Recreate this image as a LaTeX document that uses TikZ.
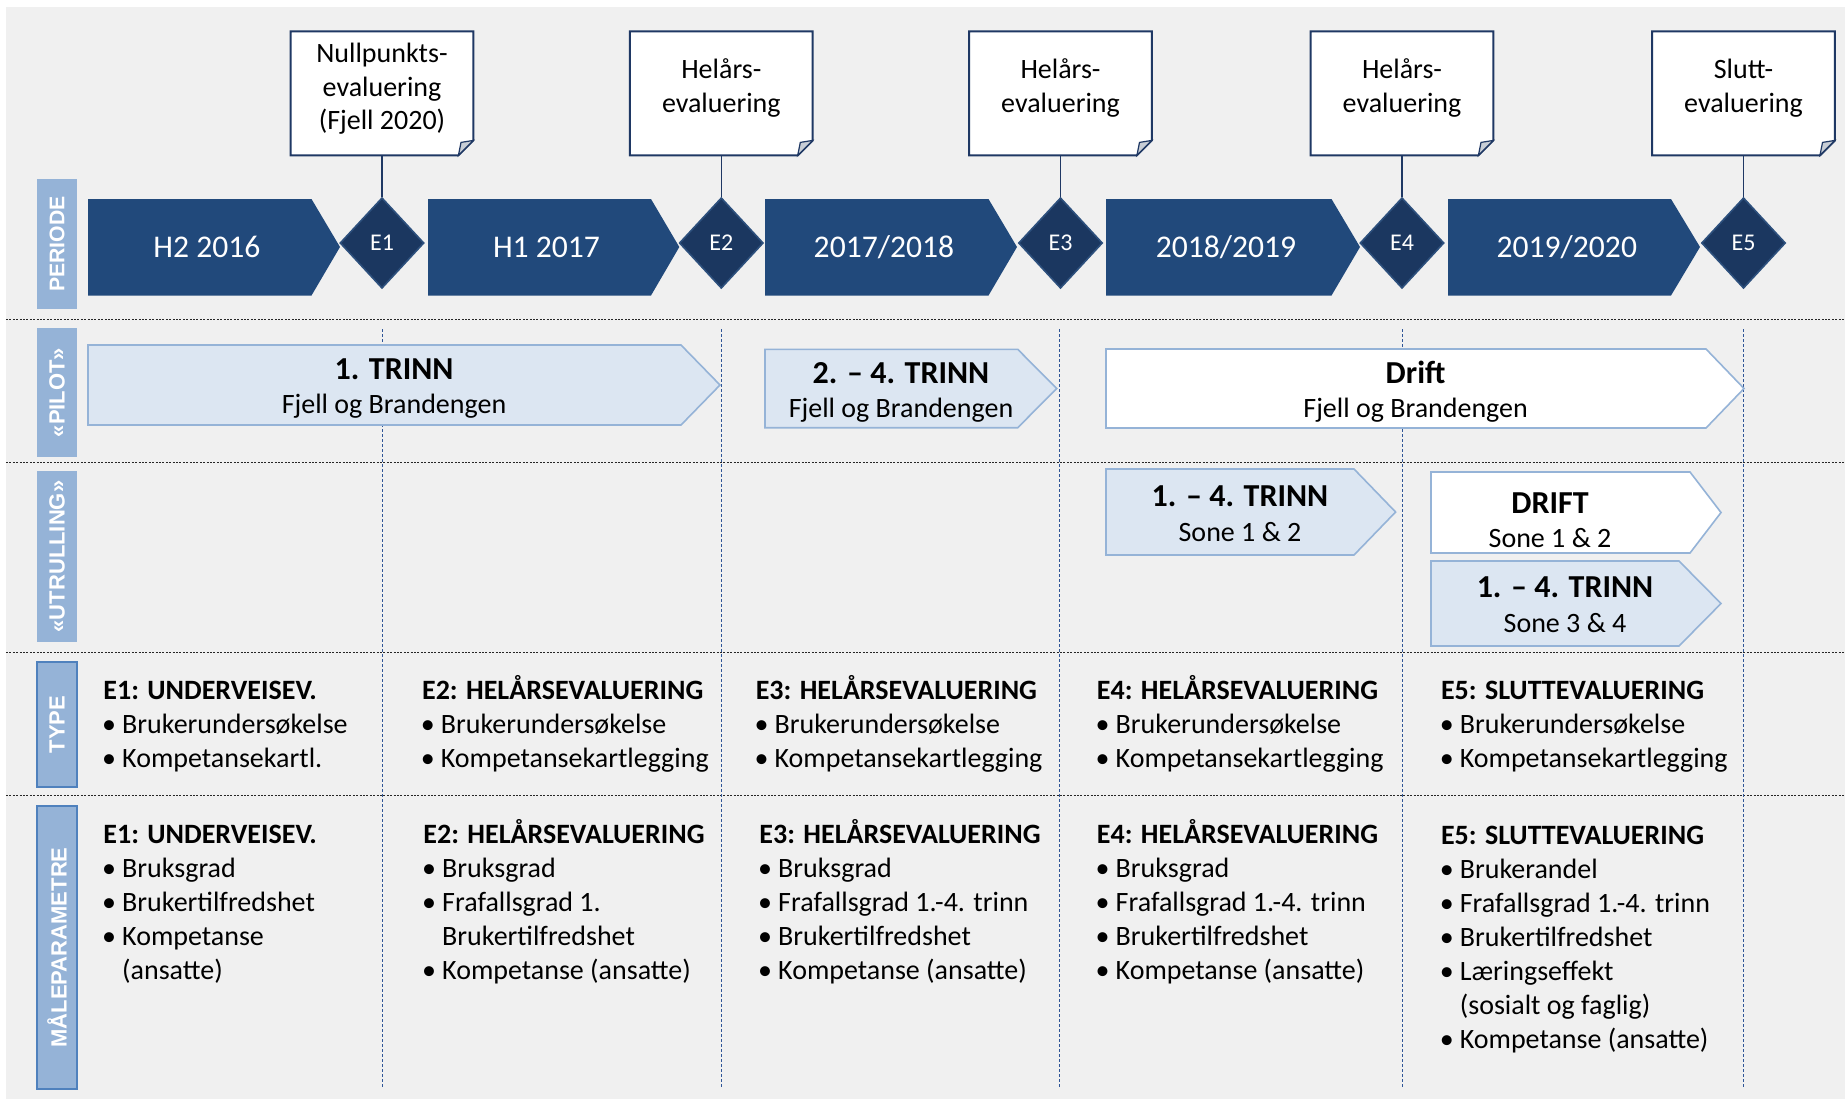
\documentclass[tikz,border=0pt]{standalone}
\usepackage{fontspec}
\setmainfont{Carlito}
\newfontfamily\sidefont{Liberation Sans}
\usetikzlibrary{shapes.geometric}
\definecolor{bggray}{RGB}{240,240,240}
\definecolor{perblue}{RGB}{33,73,123}
\definecolor{diafill}{RGB}{27,55,96}
\definecolor{diaedge}{RGB}{45,80,125}
\definecolor{navy}{RGB}{31,56,100}
\definecolor{lightfill}{RGB}{220,230,242}
\definecolor{lightedge}{RGB}{149,179,215}
\definecolor{sidefill}{RGB}{149,179,215}
\definecolor{sideedge}{RGB}{79,129,189}
\definecolor{vline}{RGB}{47,85,151}
\definecolor{foldgray}{RGB}{200,206,214}
\newcommand\mybul{\makebox[9.4pt][l]{\hspace{-0.6pt}•}}
\newcommand\myind{\hspace*{9.4pt}}
\begin{document}
\begin{tikzpicture}[x=0.5pt,y=-0.5pt,
  perarrow/.style={fill=perblue},
  pertext/.style={text=white,font=\fontsize{15.8}{19}\selectfont,inner sep=0,anchor=base},
  diam/.style={diamond,fill=diafill,draw=diaedge,line width=0.8pt,minimum width=42pt,minimum height=45.3pt,inner sep=0,text=white,font=\fontsize{12}{14}\selectfont},
  callbox/.style={minimum width=91pt,minimum height=61.65pt,inner sep=0},
  callpath/.style={fill=white,draw=navy,line width=1pt},
  foldstyle/.style={fill=foldgray,draw=navy,line width=0.6pt},
  calltext/.style={font=\fontsize{14}{16.8}\selectfont,inner sep=0,anchor=base},
  conn/.style={draw=navy,line width=0.6pt},
  lightarrow/.style={fill=lightfill,draw=lightedge,line width=0.8pt},
  whitearrow/.style={fill=white,draw=lightedge,line width=0.8pt},
  ttl/.style={font=\bfseries\fontsize{16}{19}\selectfont,inner sep=0,anchor=base},
  subtxt/.style={font=\fontsize{14}{17}\selectfont,inner sep=0,anchor=base},
  sidebox/.style={fill=sidefill,inner sep=0,text=white,font=\sidefont\bfseries\fontsize{11}{13}\selectfont,rotate=90,minimum height=20pt},
  sideboxb/.style={sidebox,draw=sideedge,line width=1pt},
  hdots/.style={draw=black!85,line width=0.5pt,dash pattern=on 1pt off 0.7pt},
  vdash/.style={draw=vline,line width=0.5pt,dash pattern=on 1.5pt off 1pt},
  lst/.style={font=\fontsize{14}{17}\selectfont,inner sep=0,anchor=base west}
]
\path[use as bounding box,fill=white] (0,0) rectangle (1845,1099);
\fill[bggray] (6,7) rectangle (1845,1099);

% separators
\foreach \yy in {319,462,652,795} \draw[hdots] (6,\yy) -- (1845,\yy);
\foreach \xx in {382,721.3,1059.5,1402.3,1743.5} \draw[vdash] (\xx,329) -- (\xx,1088);

% side labels
\node[sidebox,minimum width=65pt,font=\sidefont\bfseries\fontsize{10.6}{12}\selectfont] (sPer) at (57,244) {PERIODE};
\node[sidebox,minimum width=64.5pt] (sPil) at (57,392.5) {«PILOT»};
\node[sidebox,minimum width=85.5pt] (sUtr) at (57,556.5) {«UTRULLING»};
\node[sideboxb,minimum width=62.6pt] (sTyp) at (57,724.4) {TYPE};
\node[sideboxb,minimum width=141.6pt] (sMal) at (57,947.4) {MÅLEPARAMETRE};

% period arrows
\path[perarrow] (88,199) -- (311.5,199) -- (340,247) -- (311.5,295.5) -- (88,295.5) -- cycle;
\path[perarrow] (428,199) -- (651,199) -- (679.3,247) -- (651,295.5) -- (428,295.5) -- cycle;
\path[perarrow] (765,199) -- (988.5,199) -- (1017,247) -- (988.5,295.5) -- (765,295.5) -- cycle;
\path[perarrow] (1106,199) -- (1331.5,199) -- (1360,247) -- (1331.5,295.5) -- (1106,295.5) -- cycle;
\path[perarrow] (1448,199) -- (1671,199) -- (1700,247) -- (1671,295.5) -- (1448,295.5) -- cycle;
\node[pertext] (p1) at (206.9,257) {H2 2016};
\node[pertext] (p2) at (546.5,257) {H1 2017};
\node[pertext] (p3) at (883.9,257) {2017/2018};
\node[pertext] (p4) at (1225.9,257) {2018/2019};
\node[pertext] (p5) at (1566.8,257) {2019/2020};

% diamonds
\node[diam] (d1) at (382,243) {E1};
\node[diam] (d2) at (721.3,243) {E2};
\node[diam] (d3) at (1060.5,243) {E3};
\node[diam] (d4) at (1402,243) {E4};
\node[diam] (d5) at (1743.5,243) {E5};

% callouts
\foreach \i/\xx in {1/382,2/721.3,3/1060.5,4/1402,5/1743.5}{
  \node[callbox] (c\i) at (\xx,93.35) {};
  \path[callpath] (c\i.north west) -- (c\i.north east) -- ([yshift=7.5pt]c\i.south east) -- ([xshift=-7.5pt]c\i.south east) -- (c\i.south west) -- cycle;
  \path[foldstyle] ([yshift=7.5pt]c\i.south east) -- ([xshift=-7.5pt]c\i.south east) -- ([xshift=-6.2pt,yshift=6.5pt]c\i.south east) -- cycle;
  \draw[conn] (c\i.south) -- (d\i.north);
}
\node[calltext] (ct1) at (382,62.5) {\begin{tabular}[t]{@{}c@{}}Nullpunkts-\\evaluering\\(Fjell 2020)\end{tabular}};
\node[calltext] (ct2) at (721.3,78.5) {\begin{tabular}[t]{@{}c@{}}Helårs-\\evaluering\end{tabular}};
\node[calltext] (ct3) at (1060.5,78.5) {\begin{tabular}[t]{@{}c@{}}Helårs-\\evaluering\end{tabular}};
\node[calltext] (ct4) at (1402,78.5) {\begin{tabular}[t]{@{}c@{}}Helårs-\\evaluering\end{tabular}};
\node[calltext] (ct5) at (1743.5,78.5) {\begin{tabular}[t]{@{}c@{}}Slutt-\\evaluering\end{tabular}};

% pilot / utrulling arrows
\path[lightarrow] (88,345) -- (681,345) -- (720,385) -- (681,425) -- (88,425) -- cycle;
\path[lightarrow] (765,349.3) -- (1017.7,349.3) -- (1056.7,388.5) -- (1017.7,427.7) -- (765,427.7) -- cycle;
\path[whitearrow] (1106,349) -- (1706,349) -- (1744,388.5) -- (1706,428) -- (1106,428) -- cycle;
\path[lightarrow] (1106,469) -- (1354,469) -- (1395.6,512) -- (1354,555) -- (1106,555) -- cycle;
\path[whitearrow] (1431,472) -- (1690,472) -- (1721,512.5) -- (1690,553) -- (1431,553) -- cycle;
\path[lightarrow] (1431,561) -- (1679,561) -- (1721,603.5) -- (1679,646) -- (1431,646) -- cycle;

\node[ttl] (a1t) at (394,379) {1. TRINN};
\node[subtxt] (a1s) at (394,413) {Fjell og Brandengen};
\node[ttl] (a2t) at (901,383) {2. – 4. TRINN};
\node[subtxt] (a2s) at (901,417) {Fjell og Brandengen};
\node[ttl] (a3t) at (1415.6,383) {Drift};
\node[subtxt] (a3s) at (1415.6,417) {Fjell og Brandengen};
\node[ttl] (a4t) at (1240,506) {1. – 4. TRINN};
\node[subtxt] (a4s) at (1240,541) {Sone 1 \& 2};
\node[ttl] (a5t) at (1550,513) {DRIFT};
\node[subtxt] (a5s) at (1550,547) {Sone 1 \& 2};
\node[ttl] (a6t) at (1565,597) {1. – 4. TRINN};
\node[subtxt] (a6s) at (1565,632) {Sone 3 \& 4};

% TYPE lists
\node[lst] (t1) at (103,699) {\begin{tabular}[t]{@{}l@{}}\textbf{E1: UNDERVEISEV.}\\\mybul Brukerundersøkelse\\\mybul Kompetansekartl.\end{tabular}};
\node[lst] (t2) at (421.7,699) {\begin{tabular}[t]{@{}l@{}}\textbf{E2: HELÅRSEVALUERING}\\\mybul Brukerundersøkelse\\\mybul Kompetansekartlegging\end{tabular}};
\node[lst] (t3) at (755.4,699) {\begin{tabular}[t]{@{}l@{}}\textbf{E3: HELÅRSEVALUERING}\\\mybul Brukerundersøkelse\\\mybul Kompetansekartlegging\end{tabular}};
\node[lst] (t4) at (1096.5,699) {\begin{tabular}[t]{@{}l@{}}\textbf{E4: HELÅRSEVALUERING}\\\mybul Brukerundersøkelse\\\mybul Kompetansekartlegging\end{tabular}};
\node[lst] (t5) at (1440.6,699) {\begin{tabular}[t]{@{}l@{}}\textbf{E5: SLUTTEVALUERING}\\\mybul Brukerundersøkelse\\\mybul Kompetansekartlegging\end{tabular}};

% MÅLEPARAMETRE lists
\node[lst] (m1) at (103,843) {\begin{tabular}[t]{@{}l@{}}\textbf{E1: UNDERVEISEV.}\\\mybul Bruksgrad\\\mybul Brukertilfredshet\\\mybul Kompetanse\\\myind(ansatte)\end{tabular}};
\node[lst] (m2) at (423,843) {\begin{tabular}[t]{@{}l@{}}\textbf{E2: HELÅRSEVALUERING}\\\mybul Bruksgrad\\\mybul Frafallsgrad 1.\\\myind Brukertilfredshet\\\mybul Kompetanse (ansatte)\end{tabular}};
\node[lst] (m3) at (759,843) {\begin{tabular}[t]{@{}l@{}}\textbf{E3: HELÅRSEVALUERING}\\\mybul Bruksgrad\\\mybul Frafallsgrad 1.-4. trinn\\\mybul Brukertilfredshet\\\mybul Kompetanse (ansatte)\end{tabular}};
\node[lst] (m4) at (1096.5,843) {\begin{tabular}[t]{@{}l@{}}\textbf{E4: HELÅRSEVALUERING}\\\mybul Bruksgrad\\\mybul Frafallsgrad 1.-4. trinn\\\mybul Brukertilfredshet\\\mybul Kompetanse (ansatte)\end{tabular}};
\node[lst] (m5) at (1440.6,844) {\begin{tabular}[t]{@{}l@{}}\textbf{E5: SLUTTEVALUERING}\\\mybul Brukerandel\\\mybul Frafallsgrad 1.-4. trinn\\\mybul Brukertilfredshet\\\mybul Læringseffekt\\\myind(sosialt og faglig)\\\mybul Kompetanse (ansatte)\end{tabular}};
\end{tikzpicture}
\end{document}
